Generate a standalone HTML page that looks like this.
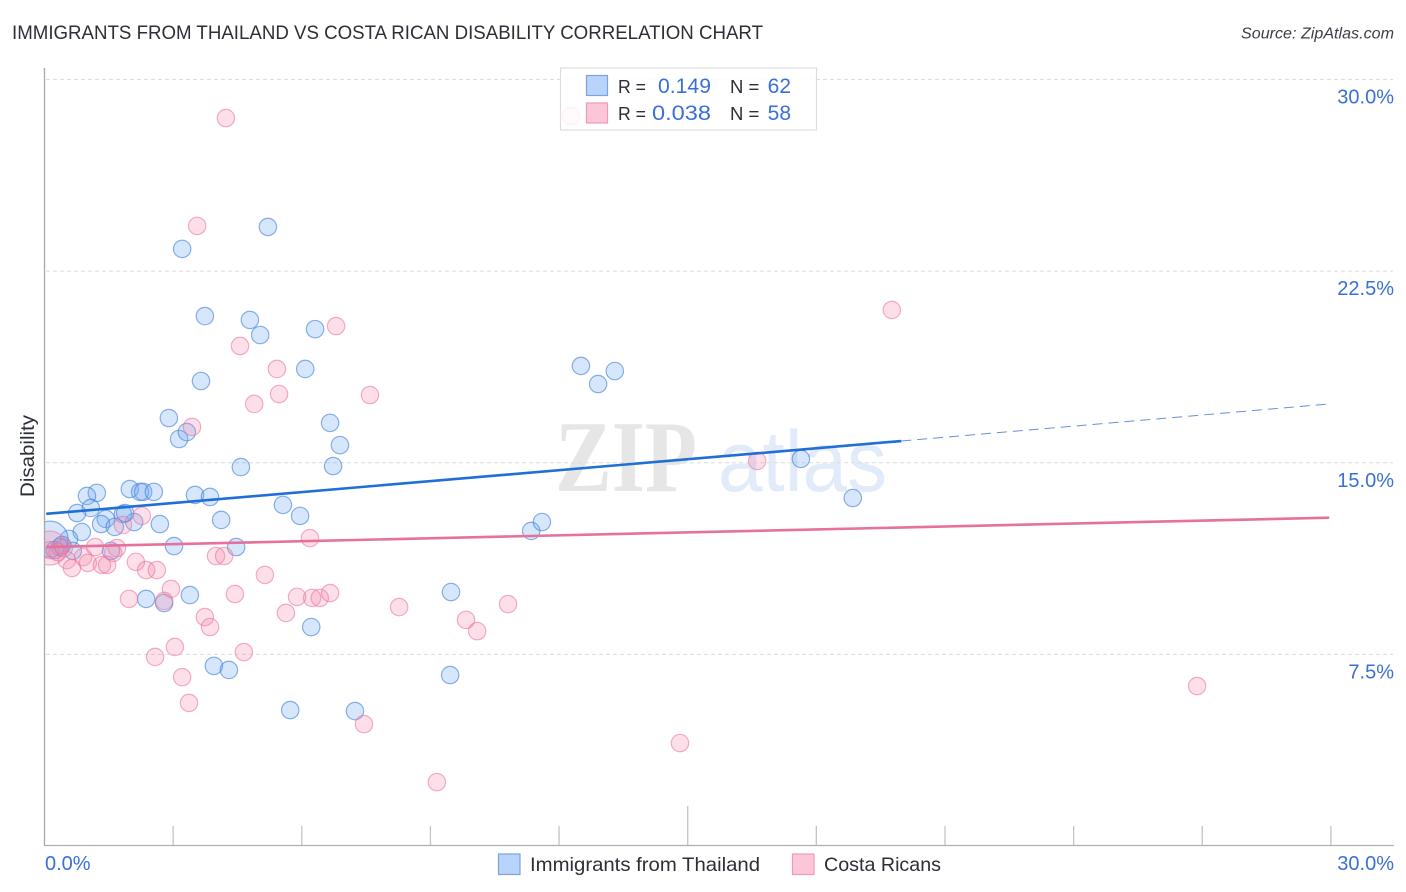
<!DOCTYPE html>
<html lang="en">
<head>
<meta charset="utf-8">
<title>Immigrants from Thailand vs Costa Rican Disability Correlation Chart</title>
<style>
html,body{margin:0;padding:0;background:#fff;}
svg{display:block;font-family:"Liberation Sans",sans-serif;}
</style>
</head>
<body>
<svg id="chart" width="1406" height="892" viewBox="0 0 1406 892" xmlns="http://www.w3.org/2000/svg">
  <defs>
    <clipPath id="plot-clip"><rect x="45" y="60" width="1349" height="786"/></clipPath>
  </defs>
  <text x="12" y="39" font-size="19" fill="#2b2f36" textLength="751" lengthAdjust="spacingAndGlyphs">IMMIGRANTS FROM THAILAND VS COSTA RICAN DISABILITY CORRELATION CHART</text>
  <text x="1394" y="38.500" font-size="15.500" font-style="italic" fill="#3a3f47" text-anchor="end" textLength="153" lengthAdjust="spacingAndGlyphs">Source: ZipAtlas.com</text>
  <text x="555" y="491" font-family="'Liberation Serif',serif" font-size="102" font-weight="700" fill="#e6e6e6" textLength="142" lengthAdjust="spacingAndGlyphs">ZIP</text>
  <text x="718" y="491" font-size="86" fill="#e2ebf9" textLength="169" lengthAdjust="spacingAndGlyphs">atlas</text>
  <g id="grid"></g>
  <g id="axes"></g>
  <g id="blue-points" clip-path="url(#plot-clip)"></g>
  <g id="pink-points" clip-path="url(#plot-clip)"></g>
  <g id="trends"></g>
  <text transform="translate(34 456) rotate(-90)" font-size="19" fill="#2b2f36" text-anchor="middle" textLength="82" lengthAdjust="spacingAndGlyphs">Disability</text>

  <g>
    <rect x="560.500" y="68" width="256" height="62" fill="#ffffff" fill-opacity="0.85" stroke="#dedede" stroke-width="1.200"/>
    <rect x="586.500" y="75.500" width="21" height="20" fill="#b8d4fa" stroke="#7ba4e0" stroke-width="1.200"/>
    <rect x="586.500" y="103" width="21" height="20" fill="#fcc6d8" stroke="#f09ab8" stroke-width="1.200"/>
    <text x="618" y="93" font-size="18.500" fill="#2b2f36" textLength="28" lengthAdjust="spacingAndGlyphs">R =</text>
    <text x="711" y="93" font-size="21" fill="#3a70d6" text-anchor="end" textLength="53" lengthAdjust="spacingAndGlyphs">0.149</text>
    <text x="730" y="93" font-size="18.500" fill="#2b2f36">N =</text>
    <text x="791" y="93" font-size="21" fill="#3a70d6" text-anchor="end">62</text>
    <text x="618" y="120" font-size="18.500" fill="#2b2f36" textLength="28" lengthAdjust="spacingAndGlyphs">R =</text>
    <text x="711" y="120" font-size="21" fill="#3a70d6" text-anchor="end" textLength="59" lengthAdjust="spacingAndGlyphs">0.038</text>
    <text x="730" y="120" font-size="18.500" fill="#2b2f36">N =</text>
    <text x="791" y="120" font-size="21" fill="#3a70d6" text-anchor="end">58</text>
  </g>

  <g>
    <rect x="498.500" y="854" width="21.500" height="20.500" fill="#b8d4fa" stroke="#7ba4e0" stroke-width="1.200"/>
    <text x="530" y="871" font-size="19.500" fill="#2b2f36" textLength="230" lengthAdjust="spacingAndGlyphs">Immigrants from Thailand</text>
    <rect x="792.500" y="854" width="21.500" height="20.500" fill="#fcc6d8" stroke="#f09ab8" stroke-width="1.200"/>
    <text x="824" y="871" font-size="19.500" fill="#2b2f36" textLength="117" lengthAdjust="spacingAndGlyphs">Costa Ricans</text>
  </g>
</svg>
<script>
const blueX = [3.21,5.21,3.74,4.79,5.03,6.31,6.08,3.65,12.51,12.91,13.3,2.9,3.14,3.32,6.66,6.89,4.58,6.73,17.64,18.85,1.22,0.99,1.08,0.76,1.99,2.23,2.3,2.55,3.51,3.86,5.56,5.96,4.12,2.69,2.09,1.83,1.88,1.43,1.32,1.64,0.87,0.57,0.13,3.02,4.47,1.55,0.66,0.36,0.24,0.41,2.37,2.79,3.39,11.35,11.6,9.48,6.22,3.95,4.3,9.46,5.73,7.24];
const blueY = [23.37,24.23,20.74,20.59,20.0,20.23,18.67,18.2,18.79,18.08,18.59,16.75,15.93,16.2,16.56,15.69,14.83,14.87,15.15,13.62,13.82,13.7,13.23,13.03,13.97,13.86,13.86,13.86,13.74,13.66,13.35,12.92,12.76,12.6,12.68,12.99,13.03,12.8,12.6,12.49,12.29,12.02,12.01,11.74,11.7,11.55,11.55,11.7,11.58,11.78,9.67,9.51,9.82,12.33,12.68,9.94,8.57,7.05,6.89,6.69,5.32,5.28];
const blueLargeIndex = 42;
const pinkX = [4.23,3.56,4.56,6.8,5.42,5.47,4.89,7.59,3.44,19.76,16.62,6.19,6.24,6.42,6.66,5.89,5.63,8.27,9.83,10.09,10.81,4.65,2.58,3.04,3.21,3.37,7.45,14.82,9.15,26.88,12.28,2.27,1.83,1.18,1.69,1.6,0.13,0.52,0.9,1.01,0.64,1.34,1.46,2.13,2.37,2.62,4.0,4.19,5.14,2.95,1.97,2.79,4.44,3.74,3.86,0.13,0.31,0.45];
const pinkY = [28.49,24.27,19.57,20.35,18.67,17.69,17.3,17.65,16.4,20.98,15.07,12.05,9.71,9.71,9.9,9.75,9.12,9.35,8.85,8.41,9.47,7.59,7.4,7.79,6.61,5.6,4.77,4.03,2.5,6.26,28.57,12.92,12.56,11.7,11.66,11.47,11.66,11.19,11.31,11.08,10.88,11.0,11.0,11.12,10.8,10.8,11.35,11.35,10.61,10.06,9.67,9.59,9.86,8.96,8.57,11.58,11.5,11.66];
const pinkLargeIndex = 36;
const blueTrendX = [0.04,19.98,29.96];
const blueTrendY = [13.0,15.85,17.3];
const pinkTrendX = [0.04,29.96];
const pinkTrendY = [11.7,12.85];
const yTicks = [7.5,15,22.5,30];
const yTickLabels = ["7.5%","15.0%","22.5%","30.0%"];
const xTicks = [0,3,6,9,12,15,18,21,24,27,30];
const xEndLabels = ["0.0%","30.0%"];

const NS = "http://www.w3.org/2000/svg";
const sx = v => 44.5 + v * 42.88;
const sy = v => 846 - v * 25.55;
function mk(parent, tag, attrs){
  const el = document.createElementNS(NS, tag);
  for (const k in attrs) el.setAttribute(k, attrs[k]);
  parent.appendChild(el);
  return el;
}
const grid = document.getElementById("grid");
const axes = document.getElementById("axes");
const trends = document.getElementById("trends");

yTicks.forEach((t, i) => {
  const g = mk(grid, "line", {x1:46, x2:1393, y1:sy(t), y2:sy(t), stroke:"#dcdcdc", "stroke-width":1, "stroke-dasharray":"4 3"});
  
  
  const l = mk(axes, "text", {x:1394, y:sy(t)+24, "font-size":20, fill:"#3a70d6", "text-anchor":"end"});
  
  
  l.textContent = yTickLabels[i];
});
xTicks.forEach(t => {
  if (t === 0) return;
  const tick = mk(axes, "line", {x1:sx(t), x2:sx(t), y1:t === 15 ? 806 : 826, y2:846, stroke:"#c4c4c4", "stroke-width":1.3});
  
  
});
const yAxis = mk(axes, "line", {x1:44.5, x2:44.5, y1:68, y2:846, stroke:"#a8a8a8", "stroke-width":1.3});


const xAxis = mk(axes, "line", {x1:44, x2:1394, y1:845.5, y2:845.5, stroke:"#b0b0b0", "stroke-width":1.3});


const x0 = mk(axes, "text", {x:45, y:870, "font-size":20, fill:"#3a70d6"});


x0.textContent = xEndLabels[0];
const x1 = mk(axes, "text", {x:1394, y:870, "font-size":20, fill:"#3a70d6", "text-anchor":"end"});


x1.textContent = xEndLabels[1];

blueX.forEach((v, i) => {
  const c = mk(document.getElementById("blue-points"), "circle", {
    cx:sx(v), cy:sy(blueY[i]), r:i === blueLargeIndex ? 18 : 8.700,
    fill:"#6ea8f0", "fill-opacity":0.28, stroke:"#3f7fd8", "stroke-opacity":0.6, "stroke-width":1.2});
  
  
});
pinkX.forEach((v, i) => {
  const c = mk(document.getElementById("pink-points"), "circle", {
    cx:sx(v), cy:sy(pinkY[i]), r:i === pinkLargeIndex ? 17 : 8.700,
    fill:"#f48cab", "fill-opacity":0.28, stroke:"#ea6f9a", "stroke-opacity":0.55, "stroke-width":1.2});
  
  
});

const blueSolid = mk(trends, "line", {x1:sx(blueTrendX[0]), y1:sy(blueTrendY[0]), x2:sx(blueTrendX[1]), y2:sy(blueTrendY[1]), stroke:"#1f6fd6", "stroke-width":2.6});


const blueDash = mk(trends, "line", {x1:sx(blueTrendX[1]), y1:sy(blueTrendY[1]), x2:sx(blueTrendX[2]), y2:sy(blueTrendY[2]), stroke:"#2f6fc6", "stroke-opacity":0.75, "stroke-width":1, "stroke-dasharray":"10 6"});


const pinkLine = mk(trends, "line", {x1:sx(pinkTrendX[0]), y1:sy(pinkTrendY[0]), x2:sx(pinkTrendX[1]), y2:sy(pinkTrendY[1]), stroke:"#e8709c", "stroke-width":2.6});


</script>
</body>
</html>
